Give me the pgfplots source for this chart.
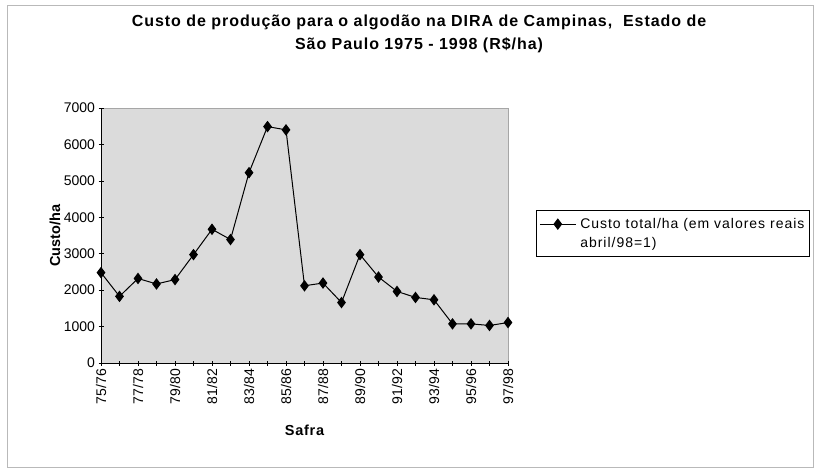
\documentclass[border=0pt]{standalone}
\usepackage{pgfplots}
\pgfplotsset{compat=1.18}
\usepackage{fontspec}
\setmainfont{Liberation Sans}
\begin{document}
\begin{tikzpicture}[x=1pt,y=1pt]
\path[use as bounding box] (0,0) rectangle (814,469);
\draw[gray!55,line width=1pt] (7,463) rectangle (813,2);
\node[font=\bfseries\fontsize{16}{23}\selectfont\addfontfeatures{LetterSpace=6},align=center] at (419,435)
  {Custo de produção para o algodão na DIRA de Campinas,\ \ Estado de\\São Paulo 1975 - 1998 (R\$/ha)};
\begin{axis}[
  at={(101pt,106pt)}, anchor=south west,
  scale only axis, width=407pt, height=255pt,
  xmin=0, xmax=22, ymin=0, ymax=7000,
  axis background/.style={fill=black!14, draw=gray!70},
  axis x line*=bottom, axis y line*=left,
  axis line style={black, line width=0.8pt},
  x axis line style={-}, y axis line style={-},
  xtick={0,...,22},
  xticklabels={75/76,,77/78,,79/80,,81/82,,83/84,,85/86,,87/88,,89/90,,91/92,,93/94,,95/96,,97/98},
  ytick={0,1000,...,7000},
  tick align=center, major tick length=5pt,
  tick style={black, line width=0.7pt},
  /pgf/number format/assume math mode=true,
  /pgf/number format/1000 sep={},
  tick label style={font=\fontsize{14}{14}\selectfont},
  x tick label style={rotate=90, anchor=east},
  xlabel={Safra}, ylabel={Custo/ha},
  every axis x label/.style={at={(axis description cs:0.5,-0.263)}, anchor=center, font=\bfseries\fontsize{14.5}{16}\selectfont\addfontfeatures{LetterSpace=5}},
  every axis y label/.style={at={(axis description cs:-0.113,0.5)}, rotate=90, anchor=center, font=\bfseries\fontsize{14.5}{16}\selectfont},
  legend style={at={(axis description cs:1.0688,0.6)}, anchor=north west, draw=black, line width=0.6pt, fill=white,
    font=\fontsize{14}{16}\selectfont\addfontfeatures{LetterSpace=7}, inner xsep=3pt, inner ysep=6pt, row sep=3pt, column sep=2pt},
  legend cell align=left,
  legend image code/.code={\draw[mark repeat=2,mark phase=2,#1] plot coordinates {(0pt,0pt) (18pt,0pt) (36pt,0pt)};},
]
\addplot[black, line width=1pt, mark=diamond*, mark size=5pt, mark options={fill=black}] coordinates {
(0,2480) (1,1830) (2,2320) (3,2170) (4,2290) (5,2975) (6,3670) (7,3390)
(8,5225) (9,6490) (10,6400) (11,2120) (12,2195) (13,1660) (14,2975)
(15,2360) (16,1965) (17,1800) (18,1735) (19,1075) (20,1075) (21,1030) (22,1110)
};
\addlegendentry{Custo total/ha (em valores reais}
\addlegendimage{empty legend}
\addlegendentry{abril/98=1)}
\end{axis}
\end{tikzpicture}
\end{document}
